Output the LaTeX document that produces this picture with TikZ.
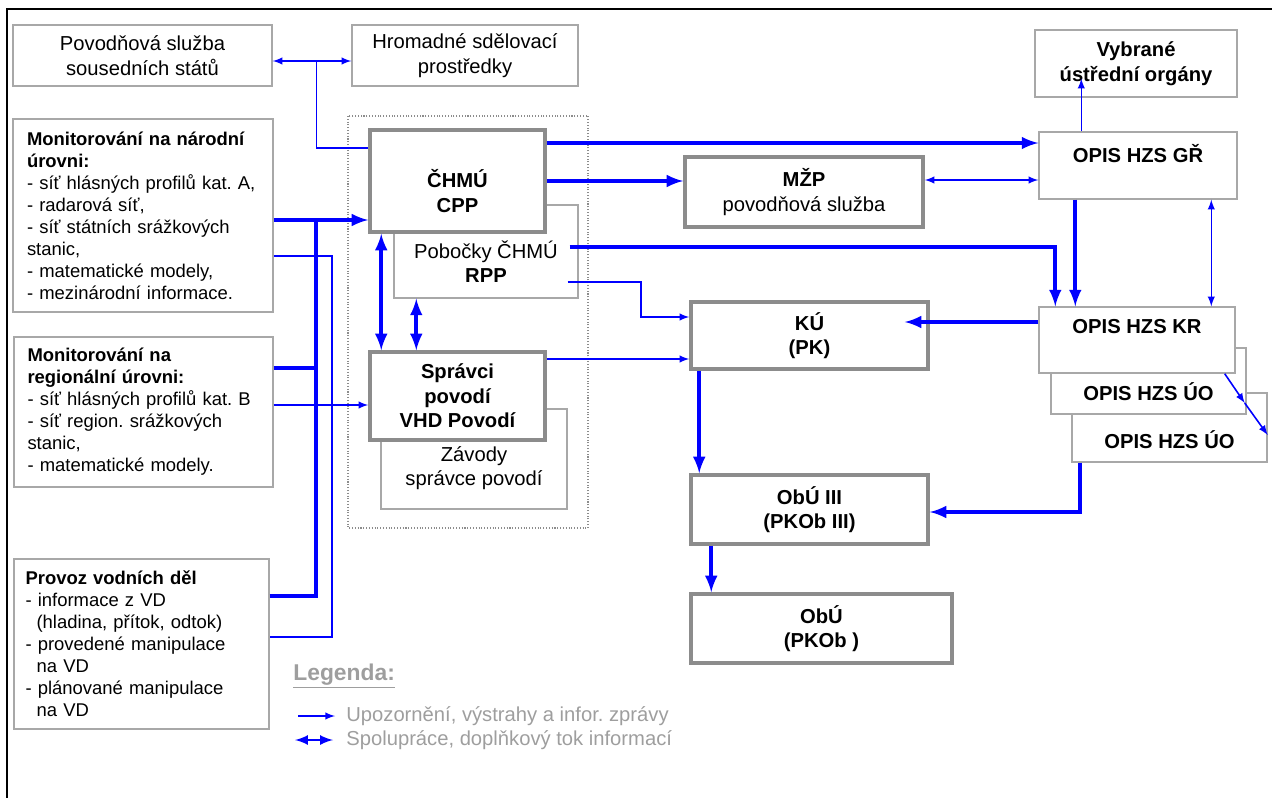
\documentclass[tikz,border=0pt]{standalone}
\usepackage{fontspec}
\setmainfont{Liberation Sans}
\usepackage{xcolor}
\usepackage{tikz}
\usetikzlibrary{calc, arrows}
\definecolor{linkblue}{rgb}{0, 0, 1}
\definecolor{boxgray}{rgb}{0.66, 0.66, 0.66}
\definecolor{thickgray}{rgb}{0.55, 0.55, 0.55}
\definecolor{leggray}{rgb}{0.62, 0.62, 0.62}
\newcommand{\fs}{\fontsize{11.5}{14}\selectfont}
\newcommand{\fsl}{\fontsize{10.5}{12.5}\selectfont}
\frenchspacing

\begin{document}
\begin{tikzpicture}[x=0.02cm, y=-0.02cm,
	wh/.style 2 args={minimum width=#1*0.02cm, minimum height=#2*0.02cm},
	box/.style={draw=boxgray, line width=0.8pt, fill=white, inner sep=0pt, align=center, font=\fs},
	mainbox/.style={box, draw=thickgray, line width=2pt},
	listbox/.style={draw=boxgray, line width=0.8pt, fill=white, inner sep=0pt, align=left, text width=4.64cm, font=\fsl},
	boxtext/.style={align=center, font=\fs, inner sep=0pt},
	info/.style={linkblue, line width=0.9pt, -latex},
	infob/.style={linkblue, line width=2.2pt, -latex},
	coop/.style={linkblue, line width=0.9pt, latex-latex},
	coopb/.style={linkblue, line width=2.2pt, latex-latex},
	wire/.style={linkblue, line width=0.9pt},
	wireb/.style={linkblue, line width=2.2pt},
	legtext/.style={text=leggray, font=\fs, inner sep=0pt, anchor=west}]

			\useasboundingbox (0,0) rectangle (1272,798);
			\draw[line width=1.3pt] (7,798) -- (7,9) -- (1272,9);

			% sources on the left
			\node[box, wh={259}{61}] (sous) at (142.5,55.5) {Povodňová služba\\sousedních států};
			\node[box, wh={226}{61}] (media) at (465,55.5) {Hromadné sdělovací\\prostředky};
			\node[listbox, wh={260}{193}] (narod) at (143,215.5) {\textbf{Monitorování na národní}\\\textbf{úrovni:}\\- síť hlásných profilů kat. A,\\- radarová síť,\\- síť státních srážkových\\stanic,\\- matematické modely,\\- mezinárodní informace.};
			\node[listbox, wh={259}{150}] (region) at (143.5,412) {\textbf{Monitorování na}\\\textbf{regionální úrovni:}\\- síť hlásných profilů kat. B\\- síť region. srážkových\\stanic,\\- matematické modely.};
			\node[listbox, wh={255}{170}] (vd) at (141.5,644) {\textbf{Provoz vodních děl}\\- informace z VD\\\hspace*{0.6em}(hladina, přítok, odtok)\\- provedené manipulace\\\hspace*{0.6em}na VD\\- plánované manipulace\\\hspace*{0.6em}na VD};

			% forecasting services
			\draw[black!45, densely dotted, line width=0.6pt] (348,116) rectangle (588,528);
			\node[box, wh={184}{93}] (pob) at (486,251.5) {};
			\node[boxtext] (pobtext) at ($(pob.center)+(0,10)$) {Pobočky ČHMÚ\\\textbf{RPP}};
			\node[mainbox, wh={175}{102}] (chmu) at (457.5,181) {};
			\node[boxtext, font=\fs\bfseries] (chmutext) at ($(chmu.center)+(0,10)$) {ČHMÚ\\CPP};
			\node[box, wh={186}{100}] (zav) at (474,459) {};
			\node[boxtext] (zavtext) at ($(zav.center)+(0,9)$) {Závody\\správce povodí};
			\node[mainbox, wh={175}{88}, font=\fs\bfseries] (spravci) at (457.5,396) {Správci\\povodí\\VHD Povodí};

			% crisis management
			\node[mainbox, wh={238}{70}] (mzp) at (804,192) {\textbf{MŽP}\\povodňová služba};
			\node[box, wh={202}{67}, font=\fs\bfseries] (vybrane) at (1136,63.5) {Vybrané\\ústřední orgány};
			\node[box, wh={198}{67}] (gr) at (1138,165.5) {};
			\node[boxtext, font=\fs\bfseries] (grtext) at ($(gr.center)+(0,-12)$) {OPIS HZS GŘ};
			\node[box, wh={195}{69}] (uo2) at (1169.5,427.5) {};
			\node[box, wh={195}{66}] (uo1) at (1148.5,381) {};
			\node[box, wh={196}{66}] (kr) at (1137,340) {};
			\node[boxtext, font=\fs\bfseries] (krtext) at ($(kr.center)+(0,-13)$) {OPIS HZS KR};
			\node[boxtext, font=\fs\bfseries] (uo1text) at ($(uo1.center)+(0,11)$) {OPIS HZS ÚO};
			\node[boxtext, font=\fs\bfseries] (uo2text) at ($(uo2.center)+(0,12)$) {OPIS HZS ÚO};
			\node[mainbox, wh={237}{67}, font=\fs\bfseries] (ku) at (809.5,335.5) {KÚ\\(PK)};
			\node[mainbox, wh={237}{69}, font=\fs\bfseries] (ob3) at (809.5,509.5) {ObÚ III\\(PKOb III)};
			\node[mainbox, wh={261}{69}, font=\fs\bfseries] (obu) at (821.5,628.5) {ObÚ\\(PKOb )};

			% links of the left part
			\coordinate (trunk) at (316,0);
			\coordinate (feed) at (332,0);
			\coordinate (split) at ($(sous.east)+(44,5.5)$);
			\draw[coop] ($(sous.east)+(0,5.5)$) -- ($(media.west)+(0,5.5)$);
			\draw[wire] (split) |- ($(chmu.west)+(0,-33)$);
			\coordinate (n1) at ($(narod.east)+(0,4.5)$);
			\coordinate (n2) at ($(narod.east)+(0,40.5)$);
			\coordinate (r1) at ($(region.east)+(0,-44)$);
			\coordinate (r2) at ($(region.east)+(0,-7)$);
			\coordinate (v1) at ($(vd.east)+(0,-48)$);
			\coordinate (v2) at ($(vd.east)+(0,-7)$);
			\draw[infob] (n1) -- (n1 -| chmu.west);
			\draw[wireb] (r1) -- (r1 -| trunk);
			\draw[wireb] (v1) -- (v1 -| trunk) -- (n1 -| trunk);
			\draw[wire] (n2) -- (n2 -| feed) -- (v2 -| feed) -- (v2);
			\draw[info] (r2) -- (r2 -| spravci.west);

			% links of ČHMÚ and Povodí
			\coordinate (p0) at ($(pob.south west)+(23,0)$);
			\draw[coopb] ($(chmu.south west)+(13,0)$) -- ($(spravci.north west)+(13,0)$);
			\draw[coopb] (p0) -- (p0 |- spravci.north);
			\coordinate (c1) at ($(chmu.east)+(0,-38)$);
			\draw[infob] (c1) -- (c1 -| gr.west);
			\draw[infob] (chmu.east) -- (chmu.east -| mzp.west);
			\coordinate (m1) at ($(mzp.east)+(0,-12)$);
			\draw[coop] (m1) -- (m1 -| gr.west);
			\coordinate (g1) at ($(gr.north west)+(43,0)$);
			\draw[info] (g1) -- ($(g1 |- vybrane.south)+(0,-19)$);
			\coordinate (p1) at ($(pob.east)+(-9,-4.5)$);
			\coordinate (p2) at ($(pob.east)+(-11,30.5)$);
			\draw[infob] (p1) -| ($(kr.north west)+(17,0)$);
			\coordinate (g2) at ($(gr.south west)+(37,0)$);
			\draw[infob] (g2) -- (g2 |- kr.north);
			\coordinate (g3) at ($(gr.south west)+(173,0)$);
			\draw[coop] (g3) -- (g3 |- kr.north);

			% links towards the offices
			\coordinate (k1) at ($(ku.west)+(0,-18.5)$);
			\draw[info] (p2) -| ($(k1)+(-48,0)$) -- (k1);
			\coordinate (s1) at ($(spravci.east)+(0,-37)$);
			\draw[info] (s1) -- (s1 -| ku.west);
			\coordinate (k2) at ($(kr.west)+(0,-18)$);
			\draw[infob] (k2) -- ($(k2 -| ku.east)+(-25,0)$);
			\draw[info] ($(kr.south east)+(-11,0)$) -- ($(uo1.east)+(-2,22)$);
			\draw[info] ($(uo1.east)+(-2,22)$) -- ($(uo2.east)+(0,7.5)$);
			\coordinate (u1) at ($(uo2.south west)+(9,0)$);
			\draw[infob] (u1) |- ($(ob3.east)+(0,2.5)$);
			\coordinate (k3) at ($(ku.south west)+(10,0)$);
			\draw[infob] (k3) -- (k3 |- ob3.north);
			\coordinate (o1) at ($(ob3.south west)+(22,0)$);
			\draw[infob] (o1) -- (o1 |- obu.north);

			% legend
			\node[font=\fontsize{13}{15}\selectfont\bfseries, text=leggray, anchor=west, inner sep=0pt] (legenda) at (293,676) {\underline{Legenda:}};
			\node[legtext] (leg1) at (346,716) {Upozornění, výstrahy a infor. zprávy};
			\node[legtext] (leg2) at (346,740) {Spolupráce, doplňkový tok informací};
			\draw[info] ($(leg1.west)+(-48,0)$) -- ($(leg1.west)+(-11,0)$);
			\draw[linkblue, line width=1.5pt, latex-latex] ($(leg2.west)+(-51,0)$) -- ($(leg2.west)+(-13,0)$);
\end{tikzpicture}
\end{document}
